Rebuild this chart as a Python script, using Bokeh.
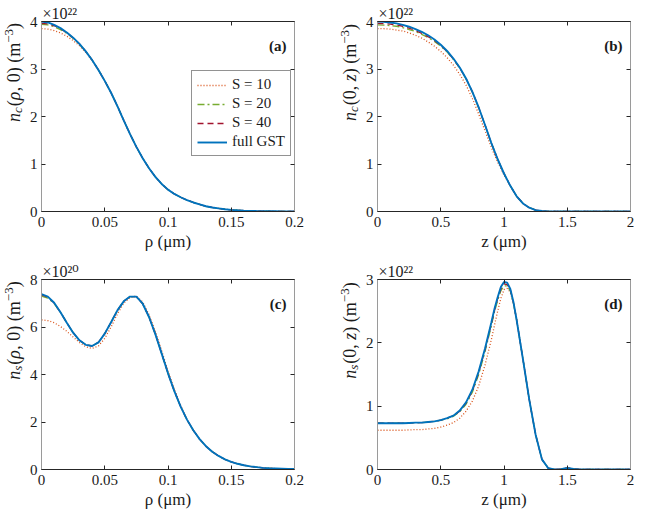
import numpy as np
from bokeh.plotting import figure
from bokeh.models import Range1d, FixedTicker, LinearAxis, Label, Legend, LegendItem
from bokeh.layouts import row, column
from bokeh.embed import file_html
from bokeh.resources import INLINE

# ---------------- data ----------------
rho = np.linspace(0.0, 0.2, 41)   # rho (um)
zz = np.linspace(0.0, 2.0, 41)    # z (um)
z_d = [0, 0.05, 0.1, 0.15, 0.2, 0.25, 0.3, 0.35, 0.4, 0.45, 0.5, 0.55, 0.6, 0.65, 0.7, 0.75, 0.8,
       0.85, 0.9, 0.925, 0.95, 0.975, 1.0, 1.025, 1.05, 1.075, 1.1, 1.15, 1.2, 1.25, 1.3, 1.35,
       1.4, 1.45, 1.5, 1.55, 1.6, 1.65, 1.7, 1.75, 1.8, 1.85, 1.9, 1.95, 2.0]

# (a) n_c(rho,0) in 1e22 m^-3
nc_rho_full = [4.00, 3.98, 3.93, 3.86, 3.77, 3.66, 3.53, 3.37, 3.19, 2.98, 2.75, 2.50, 2.22, 1.92,
               1.63, 1.36, 1.12, 0.91, 0.73, 0.58, 0.46, 0.37, 0.30, 0.24, 0.19, 0.15, 0.11, 0.085,
               0.065, 0.048, 0.035, 0.026, 0.019, 0.014, 0.010, 0.007, 0.005, 0.004, 0.003, 0.002, 0.001]
nc_rho_S10 = [3.85, 3.84, 3.81, 3.76, 3.69, 3.60, 3.49, 3.35, 3.18] + nc_rho_full[9:]
nc_rho_S20 = [3.94, 3.93, 3.89, 3.83, 3.75, 3.65, 3.52, 3.37] + nc_rho_full[8:]
nc_rho_S40 = [3.96, 3.95, 3.91, 3.85, 3.76, 3.66, 3.53] + nc_rho_full[7:]

# (b) n_c(0,z) in 1e22 m^-3
nc_z_full = [4.00, 3.995, 3.98, 3.96, 3.93, 3.89, 3.84, 3.78, 3.71, 3.62, 3.51, 3.38, 3.22, 3.03,
             2.80, 2.52, 2.19, 1.82, 1.44, 1.10, 0.80, 0.54, 0.32, 0.17, 0.08, 0.03, 0.01, 0.002,
             0, 0, 0, 0, 0, 0, 0, 0, 0, 0, 0, 0, 0]
nc_z_S10 = [3.85, 3.848, 3.84, 3.82, 3.80, 3.76, 3.71, 3.65, 3.57, 3.48, 3.37, 3.24, 3.08, 2.89,
            2.66, 2.38, 2.05, 1.70, 1.35, 1.04, 0.77] + nc_z_full[21:]
nc_z_S20 = [3.93, 3.925, 3.915, 3.90, 3.87, 3.83, 3.79, 3.73, 3.66, 3.58, 3.48, 3.36, 3.20, 3.02,
            2.79, 2.51, 2.18] + nc_z_full[17:]
nc_z_S40 = [3.96, 3.955, 3.945, 3.93, 3.90, 3.86, 3.81, 3.75, 3.68, 3.60, 3.50, 3.37, 3.21, 3.02,
            2.80] + nc_z_full[15:]

# (c) n_s(rho,0) in 1e20 m^-3
ns_rho_full = [7.38, 7.28, 7.02, 6.62, 6.18, 5.76, 5.44, 5.25, 5.20, 5.35, 5.72, 6.20, 6.70, 7.08,
               7.28, 7.28, 6.98, 6.42, 5.70, 4.88, 4.05, 3.30, 2.65, 2.10, 1.65, 1.28, 0.98, 0.75,
               0.57, 0.43, 0.32, 0.24, 0.18, 0.13, 0.10, 0.07, 0.05, 0.04, 0.03, 0.02, 0.02]
ns_rho_S10 = [6.30, 6.27, 6.18, 6.02, 5.82, 5.58, 5.35, 5.17, 5.10, 5.20, 5.52, 6.00, 6.55, 7.00,
              7.25, 7.30, 7.05, 6.52, 5.82, 5.00, 4.15, 3.38, 2.70] + ns_rho_full[23:]
ns_rho_S20 = [7.30, 7.22, 6.98] + ns_rho_full[3:]
ns_rho_S40 = [7.35, 7.26, 7.01] + ns_rho_full[3:]

# (d) n_s(0,z) in 1e22 m^-3  (on z_d)
ns_z_tail = [1.74, 1.10, 0.55, 0.16, 0.02, 0.0, 0.005, 0.025, 0.01, 0.0, 0, 0, 0, 0, 0, 0, 0, 0]
ns_z_full = [0.73, 0.73, 0.73, 0.73, 0.73, 0.735, 0.74, 0.74, 0.75, 0.76, 0.78, 0.81, 0.85, 0.93,
             1.06, 1.26, 1.55, 1.91, 2.32, 2.54, 2.72, 2.88, 2.96, 2.95, 2.85, 2.64, 2.36] + ns_z_tail
ns_z_S10 = [0.62, 0.62, 0.62, 0.62, 0.62, 0.625, 0.63, 0.63, 0.64, 0.65, 0.67, 0.70, 0.74, 0.81,
            0.92, 1.08, 1.32, 1.65, 2.05, 2.28, 2.50, 2.70, 2.84, 2.86, 2.80, 2.62, 2.37] + ns_z_tail
ns_z_S20 = [0.73, 0.73, 0.73, 0.73, 0.73, 0.735, 0.74, 0.74, 0.75, 0.76, 0.78, 0.80, 0.84, 0.91,
            1.03, 1.22, 1.50, 1.86, 2.27, 2.49, 2.67, 2.82, 2.90, 2.90, 2.82, 2.62, 2.36] + ns_z_tail
ns_z_S40 = [0.73, 0.73, 0.73, 0.73, 0.73, 0.735, 0.74, 0.74, 0.75, 0.76, 0.78, 0.81, 0.85, 0.92,
            1.05, 1.24, 1.53, 1.89, 2.30, 2.51, 2.70, 2.85, 2.93, 2.92, 2.84, 2.63, 2.36] + ns_z_tail

series_names = ["S = 10", "S = 20", "S = 40", "full GST"]

rho_ticks = [0, 0.05, 0.1, 0.15, 0.2]
rho_tick_labels = ["0", "0.05", "0.1", "0.15", "0.2"]
z_ticks = [0, 0.5, 1, 1.5, 2]
z_tick_labels = ["0", "0.5", "1", "1.5", "2"]
nc_ticks = [0, 1, 2, 3, 4]
nc_tick_labels = ["0", "1", "2", "3", "4"]
nsr_ticks = [0, 2, 4, 6, 8]
nsr_tick_labels = ["0", "2", "4", "6", "8"]
nsz_ticks = [0, 1, 2, 3]
nsz_tick_labels = ["0", "1", "2", "3"]

# ---------------- styling ----------------
FONT = "Liberation Serif"
FONT_EXP = "Liberation Serif, DejaVu Serif"
TXT = "#1a1a1a"
DARK = "#262626"
LIGHT = "#9a9a9a"
COLORS = ["#D95319", "#77AC30", "#A2142F", "#0072BD"]
DASHES = ["1 2", "7 3 2 3", "6 4", "solid"]
WIDTHS = [1.3, 1.3, 1.3, 1.9]

EM = {'n': 0.5, 'c': 0.444, 's': 0.389, '(': 0.333, ')': 0.333, 'ρ': 0.5, ',': 0.25, ' ': 0.25,
      '0': 0.5, 'z': 0.389, 'm': 0.778, '−': 0.564, '3': 0.5}


def text_w(t, size):
    return sum(EM.get(ch, 0.5) for ch in t) * size


def style_axis(ax, vertical):
    ax.major_tick_in = 4
    ax.major_tick_out = 0
    ax.minor_tick_line_color = None
    ax.axis_line_color = LIGHT if vertical else DARK
    ax.major_tick_line_color = DARK
    ax.major_label_text_font = FONT
    ax.major_label_text_font_size = "15px"
    ax.major_label_text_color = TXT
    ax.major_label_standoff = 4 if vertical else 5
    ax.axis_label_text_font = FONT
    ax.axis_label_text_font_size = "17px"
    ax.axis_label_text_font_style = "normal"
    ax.axis_label_text_color = TXT
    ax.axis_label_standoff = 2


def make_panel(w, h, borders, xr, yr, xt, xtl, yt, ytl, xlabel, expo):
    l, r, t, b = borders
    p = figure(width=w, height=h, output_backend="svg", toolbar_location=None,
               x_range=Range1d(*xr), y_range=Range1d(*yr), title=expo,
               min_border_left=l, min_border_right=r, min_border_top=t, min_border_bottom=b)
    p.title.align = "left"
    p.title.offset = 1
    p.title.standoff = 0
    p.title.text_font = FONT_EXP
    p.title.text_font_size = "16px"
    p.title.text_font_style = "normal"
    p.title.text_color = TXT
    p.grid.visible = False
    p.outline_line_color = None
    bottom = p.xaxis[0]
    bottom.ticker = FixedTicker(ticks=xt)
    bottom.major_label_overrides = dict(zip(xt, xtl))
    bottom.axis_label = xlabel
    style_axis(bottom, False)
    left = p.yaxis[0]
    left.ticker = FixedTicker(ticks=yt)
    left.major_label_overrides = dict(zip(yt, ytl))
    style_axis(left, True)
    top = LinearAxis(ticker=FixedTicker(ticks=xt))
    style_axis(top, False)
    top.major_label_text_font_size = "0px"
    top.major_label_text_color = None
    top.major_label_standoff = 0
    p.add_layout(top, "above")
    right = LinearAxis(ticker=FixedTicker(ticks=yt))
    style_axis(right, True)
    right.major_label_text_font_size = "0px"
    right.major_label_text_color = None
    right.major_label_standoff = 0
    p.add_layout(right, "right")
    return p


def add_lines(p, x, ys):
    rs = []
    for y, c, d, lw in zip(ys, COLORS, DASHES, WIDTHS):
        rs.append(p.line(x, y, line_color=c, line_dash=d, line_width=lw))
    return rs


def add_tag(p, xr, yr, tag):
    p.add_layout(Label(x=xr[1], y=yr[1], x_offset=-8, y_offset=-24, text=tag,
                       text_font=FONT, text_font_size="15px", text_font_style="bold",
                       text_color=TXT, text_align="right", text_baseline="alphabetic"))


def ylabel_pieces(sub, var_first, var):
    M, S = 18, 13
    if var_first:
        inner = [("(", "normal", M, 0, 0), (var, "italic", M, 0, 0), (", 0) (m", "normal", M, 0, 0)]
    else:
        inner = [("(0, ", "normal", M, 0, 0), (var, "italic", M, 0, 0), (") (m", "normal", M, 0, 0)]
    return ([("n", "italic", M, 0, 0), (sub, "italic", S, 4, 1)] + inner +
            [("−3", "normal", S, -5, 0), (")", "normal", M, 0, 0)])


def label_fig(w, h, mid_x, center_from_bottom, pieces):
    f = figure(width=w, height=h, output_backend="svg", toolbar_location=None,
               x_range=Range1d(0, 1), y_range=Range1d(0, 1),
               x_axis_location=None, y_axis_location=None, min_border=0)
    f.grid.visible = False
    f.outline_line_color = None
    sizes = [text_w(t, s) + g for t, st, s, sh, g in pieces]
    pos = center_from_bottom - sum(sizes) / 2.0
    for (t, st, s, sh, g), wdt in zip(pieces, sizes):
        f.add_layout(Label(x=mid_x + sh, y=pos, x_units="screen", y_units="screen",
                           angle=np.pi / 2, text=t, text_font=FONT, text_font_size=f"{s}px",
                           text_font_style=st, text_color=TXT, text_align="left",
                           text_baseline="middle"))
        pos += wdt
    return f


XR_RHO = (0, 0.2)
XR_Z = (0, 2)
H1, H2 = 255, 258
FH = 190  # frame height

pa = make_panel(304, H1, (12, 36, 21, 44), XR_RHO, (0, 4), rho_ticks, rho_tick_labels,
                nc_ticks, nc_tick_labels, "ρ (μm)", "×10²²")
pb = make_panel(272, H1, (12, 4, 21, 44), XR_Z, (0, 4), z_ticks, z_tick_labels,
                nc_ticks, nc_tick_labels, "z (μm)", "×10²²")
pc = make_panel(304, H2, (12, 36, 24, 44), XR_RHO, (0, 8), rho_ticks, rho_tick_labels,
                nsr_ticks, nsr_tick_labels, "ρ (μm)", "×10²⁰")
pd_ = make_panel(272, H2, (12, 4, 24, 44), XR_Z, (0, 3), z_ticks, z_tick_labels,
                 nsz_ticks, nsz_tick_labels, "z (μm)", "×10²²")

ra = add_lines(pa, rho, [nc_rho_S10, nc_rho_S20, nc_rho_S40, nc_rho_full])
add_lines(pb, zz, [nc_z_S10, nc_z_S20, nc_z_S40, nc_z_full])
add_lines(pc, rho, [ns_rho_S10, ns_rho_S20, ns_rho_S40, ns_rho_full])
add_lines(pd_, z_d, [ns_z_S10, ns_z_S20, ns_z_S40, ns_z_full])

add_tag(pa, XR_RHO, (0, 4), "(a)")
add_tag(pb, XR_Z, (0, 4), "(b)")
add_tag(pc, XR_RHO, (0, 8), "(c)")
add_tag(pd_, XR_Z, (0, 3), "(d)")

legend = Legend(items=[LegendItem(label=n, renderers=[r]) for n, r in zip(series_names, ra)],
                location=(150, 55), label_text_font=FONT, label_text_font_size="15px",
                label_text_color=TXT, glyph_width=30, glyph_height=16, label_height=16,
                spacing=2, padding=5, label_standoff=5, border_line_color=DARK,
                border_line_width=1, background_fill_color="white", background_fill_alpha=1.0,
                margin=0)
pa.add_layout(legend)

# y-axis labels live in narrow figures beside each panel (annotations are clipped to the frame)
la = label_fig(26, H1, 13, H1 - (21 + FH / 2), ylabel_pieces("c", True, "ρ"))
lb = label_fig(32, H1, 19, H1 - (21 + FH / 2), ylabel_pieces("c", False, "z"))
lc = label_fig(26, H2, 13, H2 - (24 + FH / 2), ylabel_pieces("s", True, "ρ"))
ld = label_fig(32, H2, 19, H2 - (24 + FH / 2), ylabel_pieces("s", False, "z"))

layout = column(row(la, pa, lb, pb), row(lc, pc, ld, pd_))

with open("out.html", "w") as f:
    f.write(file_html(layout, INLINE))
